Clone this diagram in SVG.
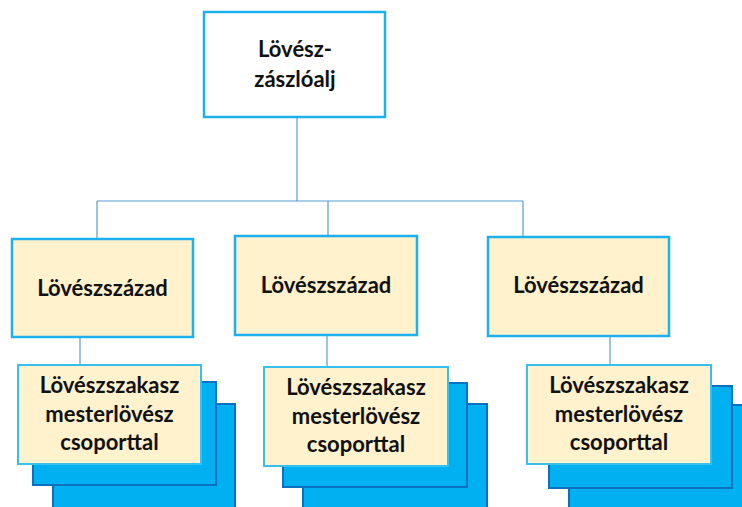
<svg xmlns="http://www.w3.org/2000/svg" width="742" height="507" viewBox="0 0 742 507">
<style>
.top{fill:#ffffff;stroke:#1cb0ec;stroke-width:2.5}
.co{fill:#fff2cc;stroke:#1cb0ec;stroke-width:2.5}
.bk{fill:#00b0f0;stroke:#0a70c0;stroke-width:2}
.fr{fill:#fff2cc;stroke:#35c0f0;stroke-width:2}
.t{font-family:Lato,"Open Sans","DejaVu Sans",sans-serif;font-weight:bold;font-size:22px;fill:#111;text-anchor:middle}
.ln{stroke:#5b9bd5;stroke-width:1.2;fill:none}
</style>
<rect width="742" height="507" fill="#ffffff"/>
<g id="connectors">
<path class="ln" d="M297 117V201M97 201H523M97 201V239M328 201V236M523 201V237M80 337V365M327 335V367M610 336V365"/>
</g>
<g id="battalion">
<rect class="top" x="204" y="12" width="181" height="105"/>
<text class="t" x="295" y="57">Lövész-</text>
<text class="t" x="295" y="87">zászlóalj</text>
</g>
<g id="company1">
<rect class="co" x="12" y="239" width="181" height="98"/>
<text class="t" x="102.5" y="296">Lövészszázad</text>
</g>
<g id="company2">
<rect class="co" x="235" y="236" width="182" height="99"/>
<text class="t" x="326" y="293">Lövészszázad</text>
</g>
<g id="company3">
<rect class="co" x="488" y="237" width="181" height="99"/>
<text class="t" x="578.5" y="293">Lövészszázad</text>
</g>
<g id="platoon1">
<rect class="bk" x="53" y="404" width="182" height="110"/>
<rect class="bk" x="33" y="382" width="183" height="103"/>
<rect class="fr" x="18" y="365" width="183" height="99"/>
<text class="t" x="109.5" y="393">Lövészszakasz</text>
<text class="t" x="109.5" y="422">mesterlövész</text>
<text class="t" x="109.5" y="450">csoporttal</text>
</g>
<g id="platoon2">
<rect class="bk" x="303" y="404" width="184" height="110"/>
<rect class="bk" x="283" y="383" width="184" height="104"/>
<rect class="fr" x="264" y="367" width="184" height="99"/>
<text class="t" x="356" y="395">Lövészszakasz</text>
<text class="t" x="356" y="424">mesterlövész</text>
<text class="t" x="356" y="452">csoporttal</text>
</g>
<g id="platoon3">
<rect class="bk" x="569" y="405" width="184" height="110"/>
<rect class="bk" x="549" y="386" width="183" height="102"/>
<rect class="fr" x="527" y="365" width="184" height="99"/>
<text class="t" x="619" y="393">Lövészszakasz</text>
<text class="t" x="619" y="422">mesterlövész</text>
<text class="t" x="619" y="450">csoporttal</text>
</g>
</svg>
